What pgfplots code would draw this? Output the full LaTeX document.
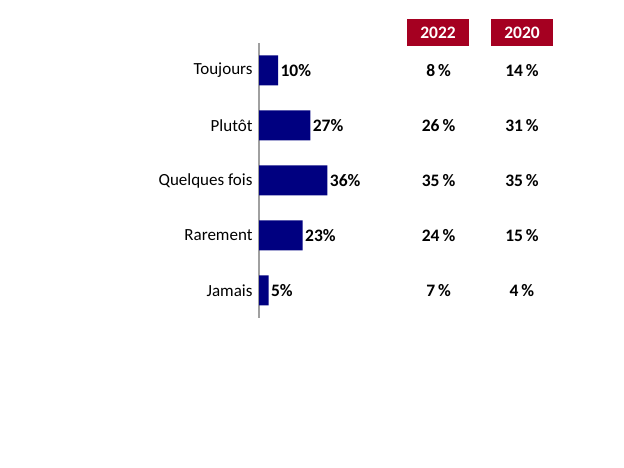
\documentclass[border=0pt]{standalone}
\usepackage{pgfplots}
\pgfplotsset{compat=1.18}
\usepackage{pgfplotstable}
\usepackage{fontspec}
\setmainfont{Carlito}

\definecolor{barblue}{HTML}{000080}
\definecolor{headred}{HTML}{A50021}
\definecolor{axisgray}{HTML}{A0A0A0}

% y = position of the category, share = current, v2022 / v2020 = earlier surveys
\pgfplotstableread{
y  share  v2022  v2020
1  10     8      14
2  27     26     31
3  36     35     35
4  23     24     15
5  5      7      4
}\answers

\begin{document}
\begin{tikzpicture}[x=1bp,y=1bp]
\useasboundingbox (0,0) rectangle (624,468);
\begin{axis}[
    at={(259bp,150bp)}, anchor=south west,
    scale only axis,
    width=190bp, height=275bp,
    xmin=0, xmax=100,
    ymin=0.5, ymax=5.5,
    y dir=reverse,
    axis x line=none,
    axis y line*=left,
    y axis line style={draw=axisgray, line width=1.3bp},
    ytick={1,2,3,4,5},
    yticklabels={Toujours, Plutôt, Quelques fois, Rarement, Jamais},
    major tick length=0pt,
    yticklabel style={font=\fontsize{17bp}{20bp}\selectfont, xshift=-3bp},
    /pgf/number format/assume math mode=true,
    clip=false,
    ]
\addplot[xbar, bar width=30bp, fill=barblue, draw=none,
    nodes near coords={\pgfmathprintnumber\pgfplotspointmeta\%},
    nodes near coords style={font=\fontsize{17.5bp}{20bp}\selectfont\bfseries, black, anchor=west, xshift=-1bp},
    point meta=x]
    table[x=share, y=y] {\answers};
\addplot[draw=none, mark=none,
    nodes near coords={\pgfmathprintnumber\pgfplotspointmeta\,\%},
    nodes near coords style={font=\fontsize{17.5bp}{20bp}\selectfont\bfseries, black, anchor=center},
    point meta=\thisrow{v2022}]
    table[x expr=94.5, y=y] {\answers};
\addplot[draw=none, mark=none,
    nodes near coords={\pgfmathprintnumber\pgfplotspointmeta\,\%},
    nodes near coords style={font=\fontsize{17.5bp}{20bp}\selectfont\bfseries, black, anchor=center},
    point meta=\thisrow{v2020}]
    table[x expr=138.4, y=y] {\answers};
\end{axis}
\node[fill=headred, text=white, minimum width=62bp, minimum height=27bp, inner sep=0pt,
      font=\fontsize{17.5bp}{20bp}\selectfont\bfseries] at (438,435.5) {2022};
\node[fill=headred, text=white, minimum width=62bp, minimum height=27bp, inner sep=0pt,
      font=\fontsize{17.5bp}{20bp}\selectfont\bfseries] at (522,435.5) {2020};
\end{tikzpicture}
\end{document}
